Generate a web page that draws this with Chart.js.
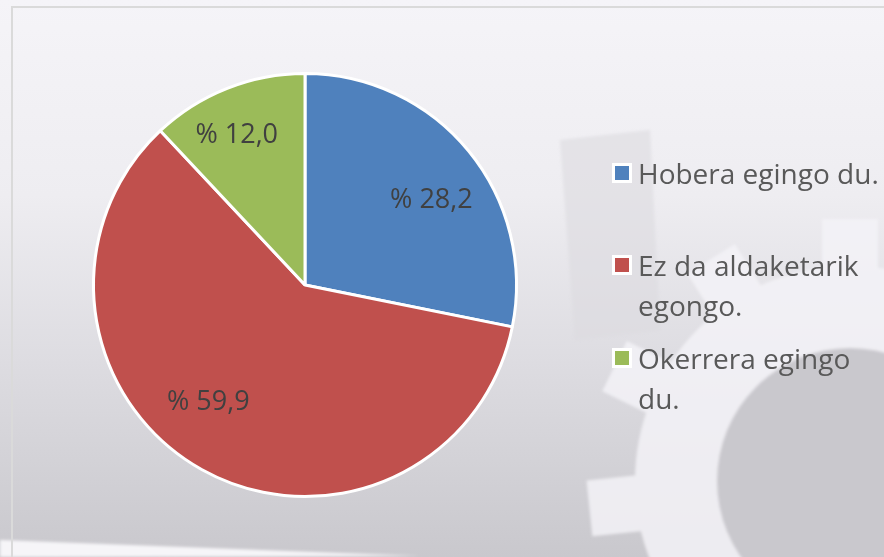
<!DOCTYPE html>
<html>
<head>
<meta charset="utf-8">
<script src="https://cdn.jsdelivr.net/npm/chart.js@4"></script>
<style>
    html, body { margin: 0; padding: 0; }
    body {
        width: 884px; height: 557px; overflow: hidden; position: relative;
        font-family: "Open Sans", sans-serif;
    }
    #backdrop { position: absolute; left: 0; top: 0; }
    #frame {
        position: absolute; left: 11px; top: 6px; right: -5px; bottom: -5px;
        border: 2px solid #dadada;
    }
    #wrap { position: absolute; left: 0; top: 0; width: 884px; height: 557px; }
    #legend {
        position: absolute; left: 612px; top: 153px; width: 272px;
        color: #595959; font-size: 28px; line-height: 40px; white-space: nowrap;
    }
    .item { display: flex; align-items: flex-start; }
    .box {
        flex: none; width: 14px; height: 14px; margin: 10px 6px 0 0;
        border: 3px solid #fff;
    }
</style>
</head>
<body>
<svg id="backdrop" width="884" height="557">
    <defs>
        <linearGradient id="bg" x1="0" y1="0" x2="0" y2="1">
            <stop offset="0" stop-color="#f5f4f8"/>
            <stop offset="0.35" stop-color="#eeedf1"/>
            <stop offset="0.65" stop-color="#dddce1"/>
            <stop offset="1" stop-color="#c9c8cd"/>
        </linearGradient>
        <filter id="soft"><feGaussianBlur stdDeviation="1.5"/></filter>
    </defs>
    <rect width="884" height="557" fill="url(#bg)"/>
    <g filter="url(#soft)">
        <path d="M560 140 L650 130 L660 330 L575 340 Z" fill="#dcdbe0" opacity="0.6"/>
        <g fill="#f4f3f7" opacity="0.85" transform="translate(850 481)">
            <circle r="215"/>
            <rect x="-28" y="-262" width="56" height="70" transform="rotate(-96)"/>
            <rect x="-28" y="-262" width="56" height="70" transform="rotate(-64)"/>
            <rect x="-28" y="-262" width="56" height="70" transform="rotate(-32)"/>
            <rect x="-28" y="-262" width="56" height="70" transform="rotate(0)"/>
            <rect x="-28" y="-262" width="56" height="70" transform="rotate(-128)"/>
        </g>
        <circle cx="850" cy="481" r="133" fill="#c9c8cd"/>
        <polygon points="0,540 420,556 0,557" fill="#f6f5f8"/>
    </g>
</svg>
<div id="frame"></div>
<div id="wrap"><canvas id="pieChart" width="884" height="557"></canvas></div>
<div id="legend"></div>
<script>
// Chart data
const categories = ['Hobera egingo du.', 'Ez da aldaketarik egongo.', 'Okerrera egingo du.'];
const legendLines = [['Hobera egingo du.'], ['Ez da aldaketarik', 'egongo.'], ['Okerrera egingo', 'du.']];
const percentages = [28.2, 59.9, 12.0];
const sliceColors = ['#4f81bd', '#c0504d', '#9bbb59'];

// label placement: fraction of radius and angle shift (radians) per slice
const labelRadius = [0.72, 0.72, 0.78];
const labelShift = [0.094, 0.18, -0.05];

const pieLabels = {
    id: 'pieLabels',
    afterDatasetsDraw(chart) {
        const ctx = chart.ctx;
        const meta = chart.getDatasetMeta(0);
        ctx.save();
        ctx.font = '27px "Open Sans", sans-serif';
        ctx.fillStyle = '#404040';
        ctx.textAlign = 'center';
        ctx.textBaseline = 'middle';
        meta.data.forEach((arc, i) => {
            const p = arc.getProps(['x', 'y', 'startAngle', 'endAngle', 'outerRadius'], true);
            const mid = (p.startAngle + p.endAngle) / 2 + labelShift[i];
            const r = p.outerRadius * labelRadius[i];
            const value = percentages[i].toFixed(1).replace('.', ',');
            ctx.fillText('% ' + value, p.x + Math.cos(mid) * r, p.y + Math.sin(mid) * r);
        });
        ctx.restore();
    }
};

const ctx = document.getElementById('pieChart').getContext('2d');
new Chart(ctx, {
    type: 'pie',
    data: {
        labels: categories,
        datasets: [{
            data: percentages,
            backgroundColor: sliceColors,
            borderColor: '#ffffff',
            borderWidth: 3
        }]
    },
    options: {
        responsive: false,
        animation: false,
        layout: { padding: { left: 92, right: 366, top: 72, bottom: 59 } },
        plugins: {
            legend: { display: false },
            tooltip: { enabled: false }
        }
    },
    plugins: [pieLabels]
});

// Build the legend
const legend = document.getElementById('legend');
const gaps = [52, 13, 0];
categories.forEach((cat, i) => {
    const item = document.createElement('div');
    item.className = 'item';
    item.style.marginBottom = gaps[i] + 'px';
    const box = document.createElement('span');
    box.className = 'box';
    box.style.background = sliceColors[i];
    const text = document.createElement('span');
    text.innerHTML = legendLines[i].join('<br>');
    item.appendChild(box);
    item.appendChild(text);
    legend.appendChild(item);
});
</script>
</body>
</html>
